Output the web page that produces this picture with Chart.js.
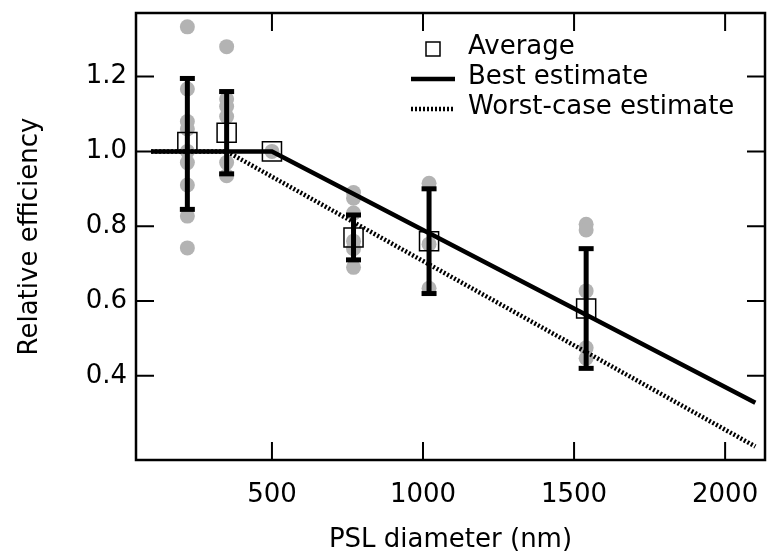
<!DOCTYPE html>
<html>
<head>
<title>Relative efficiency vs PSL diameter</title>
<script src="https://cdn.jsdelivr.net/npm/chart.js"></script>
<style>
  html, body { margin: 0; padding: 0; background: #fff; }
  .chart-box { width: 768px; height: 560px; }
</style>
</head>
<body>
<div class="chart-box"><canvas id="effChart" width="768" height="560"></canvas></div>
<script>
// averages per PSL size (nm) and their error bars
const avgDiameter = [220, 350, 500, 770, 1020, 1540];
const avgEfficiency = [1.025, 1.05, 1.0, 0.77, 0.76, 0.58];
const errLow = [0.845, 0.94, null, 0.71, 0.62, 0.42];
const errHigh = [1.195, 1.16, null, 0.83, 0.90, 0.74];

// individual measurements (grey dots)
const rawDiameter = [220, 220, 220, 220, 220, 220, 220, 220, 220,
                     350, 350, 350, 350, 350, 350,
                     500,
                     770, 770, 770, 770, 770, 770,
                     1020, 1020, 1020,
                     1540, 1540, 1540, 1540, 1540];
const rawEfficiency = [1.333, 1.167, 1.08, 1.06, 0.97, 0.91, 0.827, 0.742, 1.0,
                       1.28, 1.14, 1.12, 1.093, 0.97, 0.935,
                       1.0,
                       0.89, 0.875, 0.835, 0.76, 0.74, 0.69,
                       0.915, 0.752, 0.634,
                       0.805, 0.79, 0.627, 0.475, 0.447];

// model lines
const bestX = [100, 500, 2100];
const bestY = [1.0, 1.0, 0.328];
const worstX = [100, 350, 2100];
const worstY = [1.0, 1.0, 0.211];

const xTicks = [500, 1000, 1500, 2000];
const yTicks = [0.4, 0.6, 0.8, 1.0, 1.2];
const legendLabels = ['Average', 'Best estimate', 'Worst-case estimate'];

const FONT = { family: 'DejaVu Sans', size: 26 };

function zip(xs, ys) {
    return xs.map((x, i) => ({ x: x, y: ys[i] }));
}

// error bars as broken line segments, caps are 'line' point markers
const errPoints = [];
avgDiameter.forEach((x, i) => {
    if (errLow[i] === null) return;
    errPoints.push({ x: x, y: errLow[i] }, { x: x, y: errHigh[i] }, { x: x, y: null });
});

// box + inward ticks on all four sides
const frameTicks = {
    id: 'frameTicks',
    afterDatasetsDraw(chart) {
        const { ctx, chartArea: a, scales: { x, y } } = chart;
        ctx.save();
        ctx.strokeStyle = '#000';
        ctx.lineWidth = 2;
        ctx.beginPath();
        x.ticks.forEach(t => {
            const px = x.getPixelForValue(t.value);
            ctx.moveTo(px, a.bottom); ctx.lineTo(px, a.bottom - 18);
            ctx.moveTo(px, a.top); ctx.lineTo(px, a.top + 18);
        });
        y.ticks.forEach(t => {
            const py = y.getPixelForValue(t.value);
            ctx.moveTo(a.left, py); ctx.lineTo(a.left + 18, py);
            ctx.moveTo(a.right, py); ctx.lineTo(a.right - 18, py);
        });
        ctx.stroke();
        ctx.lineWidth = 2.5;
        ctx.strokeRect(a.left, a.top, a.right - a.left, a.bottom - a.top);
        ctx.restore();
    }
};

// legend inside the plot, top right
const insideLegend = {
    id: 'insideLegend',
    afterDraw(chart) {
        const { ctx, chartArea: a } = chart;
        const left = a.left + 275;
        const top = a.top + 34;
        ctx.save();
        ctx.strokeStyle = '#000';
        ctx.fillStyle = '#000';
        // square
        ctx.lineWidth = 1.5;
        ctx.strokeRect(left + 15, top - 5, 14, 14);
        // solid line
        ctx.lineWidth = 4.5;
        ctx.beginPath();
        ctx.moveTo(left, top + 32); ctx.lineTo(left + 44, top + 32);
        ctx.stroke();
        // dotted line
        ctx.setLineDash([2, 2]);
        ctx.beginPath();
        ctx.moveTo(left, top + 62); ctx.lineTo(left + 43, top + 62);
        ctx.stroke();
        ctx.setLineDash([]);
        ctx.font = FONT.size + 'px ' + FONT.family;
        ctx.textBaseline = 'middle';
        legendLabels.forEach((txt, i) => {
            ctx.fillText(txt, left + 57, top + i * 30);
        });
        ctx.restore();
    }
};

new Chart(document.getElementById('effChart'), {
    type: 'scatter',
    data: {
        datasets: [
            {
                label: 'Average',
                data: zip(avgDiameter, avgEfficiency),
                pointStyle: 'rect',
                pointRadius: 13.5,
                pointBorderWidth: 1.5,
                pointBorderColor: '#000',
                pointBackgroundColor: 'rgba(0,0,0,0)'
            },
            {
                label: 'error',
                data: errPoints,
                showLine: true,
                spanGaps: false,
                borderColor: '#000',
                borderWidth: 5,
                pointStyle: 'line',
                pointRadius: 7.5,
                pointBorderWidth: 5,
                pointBorderColor: '#000'
            },
            {
                label: 'Best estimate',
                data: zip(bestX, bestY),
                showLine: true,
                borderColor: '#000',
                borderWidth: 4.5,
                pointRadius: 0
            },
            {
                label: 'Worst-case estimate',
                data: zip(worstX, worstY),
                showLine: true,
                borderColor: '#000',
                borderWidth: 4.5,
                borderDash: [2, 2],
                pointRadius: 0
            },
            {
                label: 'data',
                data: zip(rawDiameter, rawEfficiency),
                pointRadius: 7.5,
                pointBorderWidth: 0,
                pointBackgroundColor: '#b3b3b3',
                pointBorderColor: '#b3b3b3'
            }
        ]
    },
    options: {
        responsive: false,
        animation: false,
        devicePixelRatio: 1,
        layout: { autoPadding: false, padding: { top: 13, right: 3, left: 0, bottom: 0 } },
        plugins: {
            legend: { display: false },
            tooltip: { enabled: false }
        },
        scales: {
            x: {
                type: 'linear',
                min: 50,
                max: 2132,
                afterBuildTicks: s => { s.ticks = xTicks.map(v => ({ value: v })); },
                afterFit: s => { s.height = 100; s.paddingLeft = 0; s.paddingRight = 0; },
                grid: { display: false, drawTicks: false },
                border: { display: false },
                ticks: { font: FONT, color: '#000', padding: 20, maxRotation: 0, autoSkip: false, callback: v => String(v) },
                title: { display: true, text: 'PSL diameter (nm)', font: FONT, color: '#000', padding: { top: 0, bottom: 4 } }
            },
            y: {
                type: 'linear',
                min: 0.175,
                max: 1.37,
                afterBuildTicks: s => { s.ticks = yTicks.map(v => ({ value: v })); },
                afterFit: s => { s.width = 136; s.paddingTop = 0; s.paddingBottom = 0; },
                grid: { display: false, drawTicks: false },
                border: { display: false },
                ticks: { font: FONT, color: '#000', padding: 9, autoSkip: false, callback: v => v.toFixed(1) },
                title: { display: true, text: 'Relative efficiency', font: FONT, color: '#000', padding: { top: 15, bottom: 0 } }
            }
        }
    },
    plugins: [frameTicks, insideLegend]
});
</script>
</body>
</html>
